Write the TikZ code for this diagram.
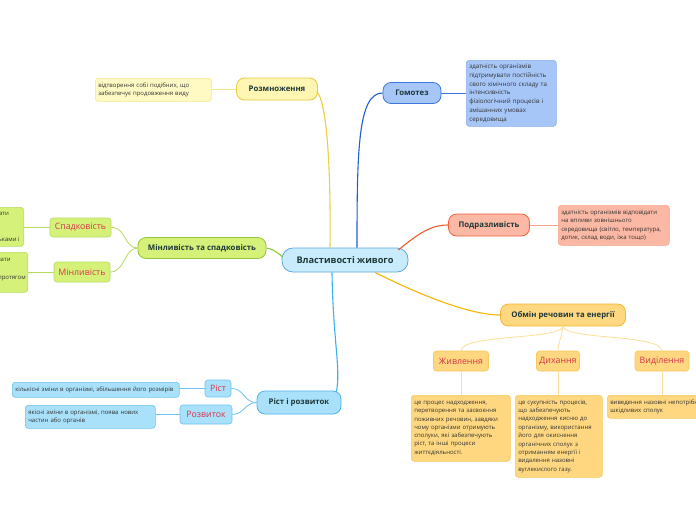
\documentclass[tikz,border=0pt]{standalone}
\usepackage{fontspec}
\setmainfont{Open Sans}
\usetikzlibrary{calc}
\definecolor{tcol}{HTML}{1E3838}
\definecolor{redc}{HTML}{D4364A}
\definecolor{dtext}{HTML}{333333}
\definecolor{cfill}{HTML}{C9ECFC}\definecolor{cdraw}{HTML}{5CA8DC}
\definecolor{gfill}{HTML}{A6C6F8}\definecolor{gdraw}{HTML}{3A78DD}\definecolor{gline}{HTML}{1F5FD0}
\definecolor{yfill}{HTML}{FFF6B3}\definecolor{ydraw}{HTML}{E8C93B}\definecolor{yline}{HTML}{E8D040}\definecolor{ydfill}{HTML}{FFF9C4}\definecolor{ysub}{HTML}{F5E68A}
\definecolor{ofill}{HTML}{FBB8A4}\definecolor{odraw}{HTML}{F2603A}\definecolor{oline}{HTML}{F05A28}\definecolor{osub}{HTML}{F8A68C}
\definecolor{afill}{HTML}{FFD780}\definecolor{adraw}{HTML}{F4B52E}\definecolor{aline}{HTML}{F6B400}\definecolor{asub}{HTML}{FBDF98}\definecolor{adraw2}{HTML}{F7C85C}
\definecolor{lfill}{HTML}{D6F17A}\definecolor{ldraw}{HTML}{93C63A}\definecolor{lsub}{HTML}{B4DC5A}
\definecolor{bfill}{HTML}{A9E0FA}\definecolor{bdraw}{HTML}{4FB4EA}\definecolor{bline}{HTML}{3CB0EE}\definecolor{bsub}{HTML}{6CC3F0}
\begin{document}
\begin{tikzpicture}[x=1pt,y=-1pt,
  topic/.style={draw, line width=0.8pt, rounded corners=8pt, inner sep=0pt, text=tcol,
    font=\fontsize{7.8}{9}\selectfont\bfseries},
  subnode/.style={draw, line width=0.6pt, rounded corners=3pt, inner sep=0pt, text=redc,
    font=\fontsize{8.8}{10}\selectfont},
  desc/.style={draw, line width=0.6pt, rounded corners=3pt, inner xsep=3pt, inner ysep=3pt,
    align=left, text=dtext, font=\fontsize{6}{8.5}\selectfont},
  mainline/.style={line width=1.1pt},
  subline/.style={line width=0.8pt}
]
\useasboundingbox (0,0) rectangle (696,520);
\clip (0,0) rectangle (696,520);
\fill[white] (0,0) rectangle (696,520);

% central
\node[topic, fill=cfill, draw=cdraw, minimum width=126pt, minimum height=24pt, rounded corners=11pt,
  font=\fontsize{9.2}{10}\selectfont\bfseries] (c) at (345,260) {Властивості живого};

% Homeostasis
\node[topic, fill=gfill, draw=gdraw, minimum width=58pt, minimum height=21pt] (g) at (412,93) {Гомотез};
\node[desc, fill=gfill, draw=gdraw!60, anchor=north west, text width=84pt, minimum height=66pt,
  font=\fontsize{6.2}{8.8}\selectfont] (gd) at (466,60)
 {здатність організмів\\підтримувати постійність\\свого хімічного складу та\\інтенсивність\\фізіологічний процесів і\\змішанних умовах\\середовища};

% Reproduction
\node[topic, fill=yfill, draw=ydraw, minimum width=81pt, minimum height=22pt] (y) at (277,89) {Розмноження};
\node[desc, fill=ydfill, draw=ysub, anchor=north west, text width=110pt, minimum height=23pt] (yd) at (95,78)
 {відтворення собі подібних, що\\забезпечує продовження виду};

% Irritability
\node[topic, fill=ofill, draw=odraw, minimum width=81pt, minimum height=22pt] (o) at (489,225) {Подразливість};
\node[desc, fill=ofill, draw=osub, anchor=north west, text width=105pt, minimum height=40pt] (od) at (558,205)
 {здатність організмів відповідати\\на впливи зовнішнього\\середовища (світло, температура,\\дотик, склад води, їжа тощо)};

% Metabolism
\node[topic, fill=afill, draw=adraw, minimum width=125pt, minimum height=22pt] (a) at (563,315) {Обмін речовин та енергії};
\node[subnode, fill=afill, draw=adraw2, minimum width=55pt, minimum height=20pt] (a1) at (461,361) {Живлення};
\node[subnode, fill=afill, draw=adraw2, minimum width=43pt, minimum height=20pt] (a2) at (558,361) {Дихання};
\node[subnode, fill=afill, draw=adraw2, minimum width=54pt, minimum height=20pt] (a3) at (662,361) {Виділення};
\node[desc, fill=afill, draw=adraw2, anchor=north west, text width=93pt, minimum height=66pt, font=\fontsize{6}{8.3}\selectfont] (a1d) at (411,395)
 {це процес надходження,\\перетворення та засвоєння\\поживних речовин, завдяки\\чому організми отримують\\сполуки, які забезпечують\\ріст, та інші процеси\\життєдіяльності.};
\node[desc, fill=afill, draw=adraw2, anchor=north west, text width=81pt, minimum height=82pt, font=\fontsize{6}{8.4}\selectfont] (a2d) at (515,395)
 {це сукупність процесів,\\що забезпечують\\надходження кисню до\\організму, використання\\його для окиснення\\органічних сполук з\\отриманням енергії і\\видалення назовні\\вуглекислого газу.};
\node[desc, fill=afill, draw=adraw2, anchor=north west, text width=115pt, minimum height=23pt] (a3d) at (607,395)
 {виведення назовні непотрібних і\\шкідливих сполук};

% Variability and heredity
\node[topic, fill=lfill, draw=ldraw, minimum width=128pt, minimum height=21pt] (l) at (202,248) {Мінливість та спадковість};
\node[subnode, fill=lfill, draw=lsub, minimum width=61pt, minimum height=19pt] (l1) at (80.5,227.5) {Спадковість};
\node[subnode, fill=lfill, draw=lsub, minimum width=56pt, minimum height=20pt] (l2) at (82,272) {Мінливість};
\node[desc, fill=lfill, draw=lsub, anchor=north east, minimum height=39pt, inner xsep=4pt, font=\fontsize{6}{8.8}\selectfont] (l1d) at (24,207)
 {здатність організмів передавати\\свої ознаки нащадкам,\\тобто забезпечувати\\зв'язок між поколіннями, батьками і};
\node[desc, fill=lfill, draw=lsub, anchor=north east, minimum height=40pt, inner xsep=2pt, font=\fontsize{6}{8.8}\selectfont] (l2d) at (28,252)
 {здатність організмів набувати\\нових властивостей\\під впливом середовища протягом\\життя};

% Growth and development
\node[topic, fill=bfill, draw=bdraw, minimum width=84pt, minimum height=23pt] (b) at (299,402.5) {Ріст і розвиток};
\node[subnode, fill=bfill, draw=bsub, minimum width=26pt, minimum height=17pt] (b1) at (218,388.5) {Ріст};
\node[subnode, fill=bfill, draw=bsub, minimum width=52pt, minimum height=19pt] (b2) at (206,414.5) {Розвиток};
\node[desc, fill=bfill, draw=bsub, anchor=north west, text width=161pt, minimum height=15pt, inner ysep=2pt] (b1d) at (12,382)
 {кількісні зміни в організмі, збільшення його розмірів};
\node[desc, fill=bfill, draw=bsub, anchor=north west, text width=124pt, minimum height=23pt] (b2d) at (25,405)
 {якісні зміни в організмі, поява нових\\частин або органів};

% main connectors
\draw[mainline, gline] ($(c.north)+(12,0)$) .. controls (357,150) and (358,93) .. (g.west);
\draw[mainline, yline] ($(c.north)+(-15,0)$) .. controls (331,160) and (326,100) .. ($(y.east)+(-1,3)$);
\draw[mainline, oline] ($(c.east)+(-10,-10)$) .. controls (420,232) and (432,225) .. (o.west);
\draw[mainline, aline] ($(c.south)+(30,0)$) .. controls (420,295) and (470,315) .. (a.west);
\draw[mainline, ldraw] ($(c.west)+(1,-3)$) .. controls (276,251) and (272,249) .. (l.east);
\draw[mainline, bline] ($(c.south)+(-13,0)$) .. controls (333,340) and (341,370) .. ($(b.north east)+(-5,1)$);

% sub connectors
\draw[subline, gdraw] (g.east) -- (gd.west |- g.east);
\draw[subline, ysub] (y.west) -- (yd.east |- y.west);
\draw[subline, osub] (o.east) -- (od.west |- o.east);
\draw[subline, asub] (a.south) .. controls (560,340) and (462,334) .. (a1.north);
\draw[subline, asub] (a.south) .. controls (562,338) and (558,342) .. (a2.north);
\draw[subline, asub] (a.south) .. controls (566,340) and (660,334) .. (a3.north);
\draw[subline, asub] (a1.south) -- (a1.south |- a1d.north);
\draw[subline, asub] (a2.south) -- (a2.south |- a2d.north);
\draw[subline, asub] (a3.south) -- (a3.south |- a3d.north);
\draw[subline, lsub] (l.west) .. controls (124,248) and (126,227) .. (l1.east);
\draw[subline, lsub] (l.west) .. controls (124,248) and (125,272) .. (l2.east);
\draw[subline, lsub] (l1.west) -- (l1d.east |- l1.west);
\draw[subline, lsub] (l2.west) -- (l2d.east |- l2.west);
\draw[subline, bsub] (b.west) .. controls (244,403) and (244,388) .. (b1.east);
\draw[subline, bsub] (b.west) .. controls (244,403) and (245,414) .. (b2.east);
\draw[subline, bsub] (b1.west) -- (b1d.east |- b1.west);
\draw[subline, bsub] (b2.west) -- (b2d.east |- b2.west);
\end{tikzpicture}
\end{document}
